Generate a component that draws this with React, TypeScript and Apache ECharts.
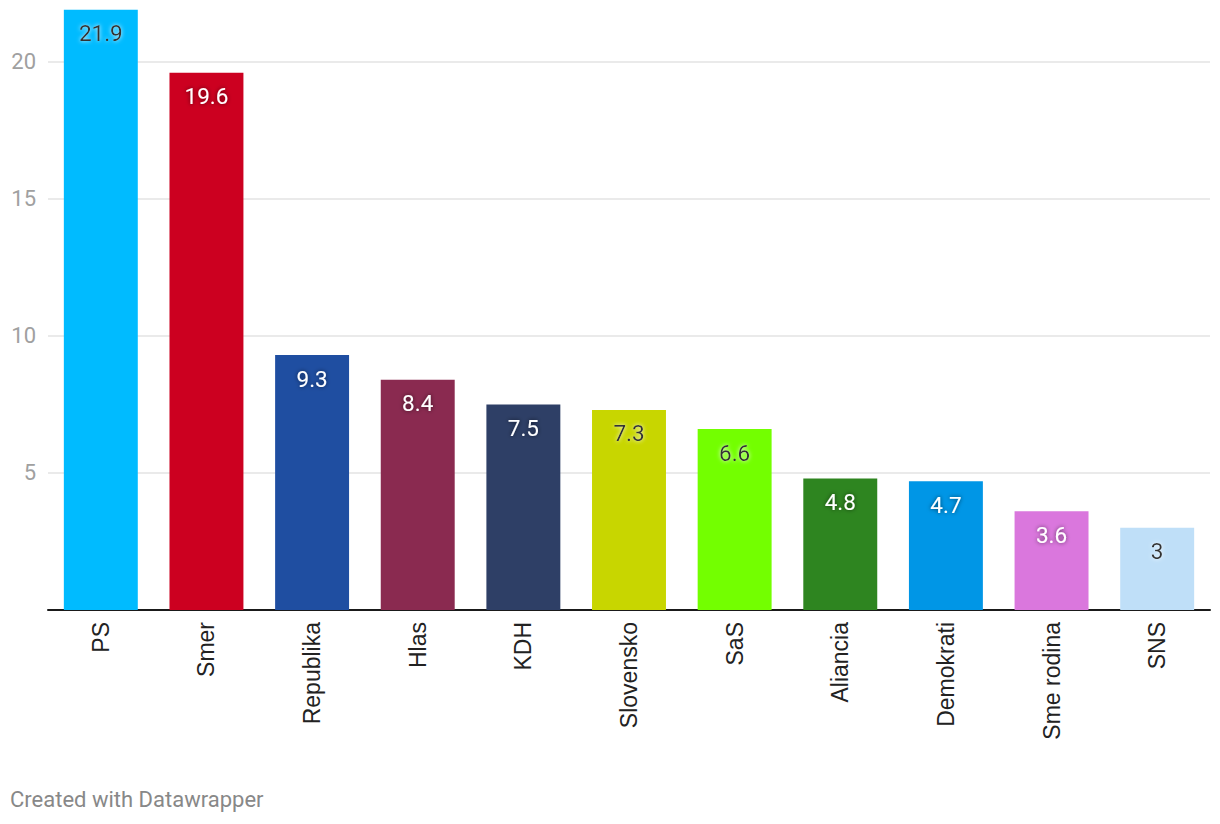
import React, { useEffect, useRef } from "react";
import * as echarts from "echarts";

const categories = ["PS", "Smer", "Republika", "Hlas", "KDH", "Slovensko", "SaS", "Aliancia", "Demokrati", "Sme rodina", "SNS"];
const values = [21.9, 19.6, 9.3, 8.4, 7.5, 7.3, 6.6, 4.8, 4.7, 3.6, 3];
const colors = ["#00BBFF", "#CC0020", "#1F4EA1", "#8A2A50", "#2E3F66", "#C8D600", "#73FF00", "#2E8520", "#0096E6", "#DA77DD", "#BFDFF8"];
const darkLabel = [true, false, false, false, false, true, true, false, false, false, true];

export default function App() {
  const ref = useRef<HTMLDivElement>(null);
  useEffect(() => {
    if (!ref.current) return;
    const chart = echarts.init(ref.current, undefined, { renderer: "svg" });
    chart.setOption({
      animation: false,
      textStyle: { fontFamily: "Roboto" },
      grid: { left: 48, right: 10, top: 7, bottom: 214, containLabel: false },
      xAxis: {
        type: "category",
        data: categories,
        axisLine: { lineStyle: { color: "#1a1a1a", width: 2 } },
        axisTick: { show: false },
        axisLabel: { rotate: 90, color: "#222", fontSize: 23, margin: 12, fontFamily: "Liberation Sans" },
      },
      yAxis: {
        type: "value",
        min: 0,
        max: 22,
        interval: 5,
        axisLine: { show: false },
        axisTick: { show: false },
        splitLine: { showMaxLine: false, lineStyle: { color: "#e3e3e3", width: 1.5 } },
        axisLabel: { color: "#a0a0a0", fontSize: 22, margin: 12, showMinLabel: false, showMaxLabel: false, fontFamily: "Roboto" },
      },
      series: [
        {
          type: "bar",
          barWidth: "70%",
          data: values.map((v, i) => ({
            value: v,
            itemStyle: { color: colors[i] },
            label: darkLabel[i]
              ? { color: "#333", textShadowColor: "rgba(255,255,255,0.9)", textShadowBlur: 4 }
              : { color: "#fff", textShadowColor: "rgba(0,0,0,0.6)", textShadowBlur: 4 },
          })),
          label: {
            show: true,
            position: "insideTop",
            distance: 12,
            fontSize: 22.5,
            fontFamily: "Roboto",
          },
        },
      ],
      graphic: [
        {
          type: "text",
          left: 10,
          top: 788,
          style: { text: "Created with Datawrapper", fill: "#888", fontSize: 22, fontFamily: "Roboto" },
        },
      ],
    });
    return () => chart.dispose();
  }, []);
  return <div ref={ref} style={{ position: "fixed", left: 0, top: 0, width: 1220, height: 824, background: "#fff" }} />;
}
